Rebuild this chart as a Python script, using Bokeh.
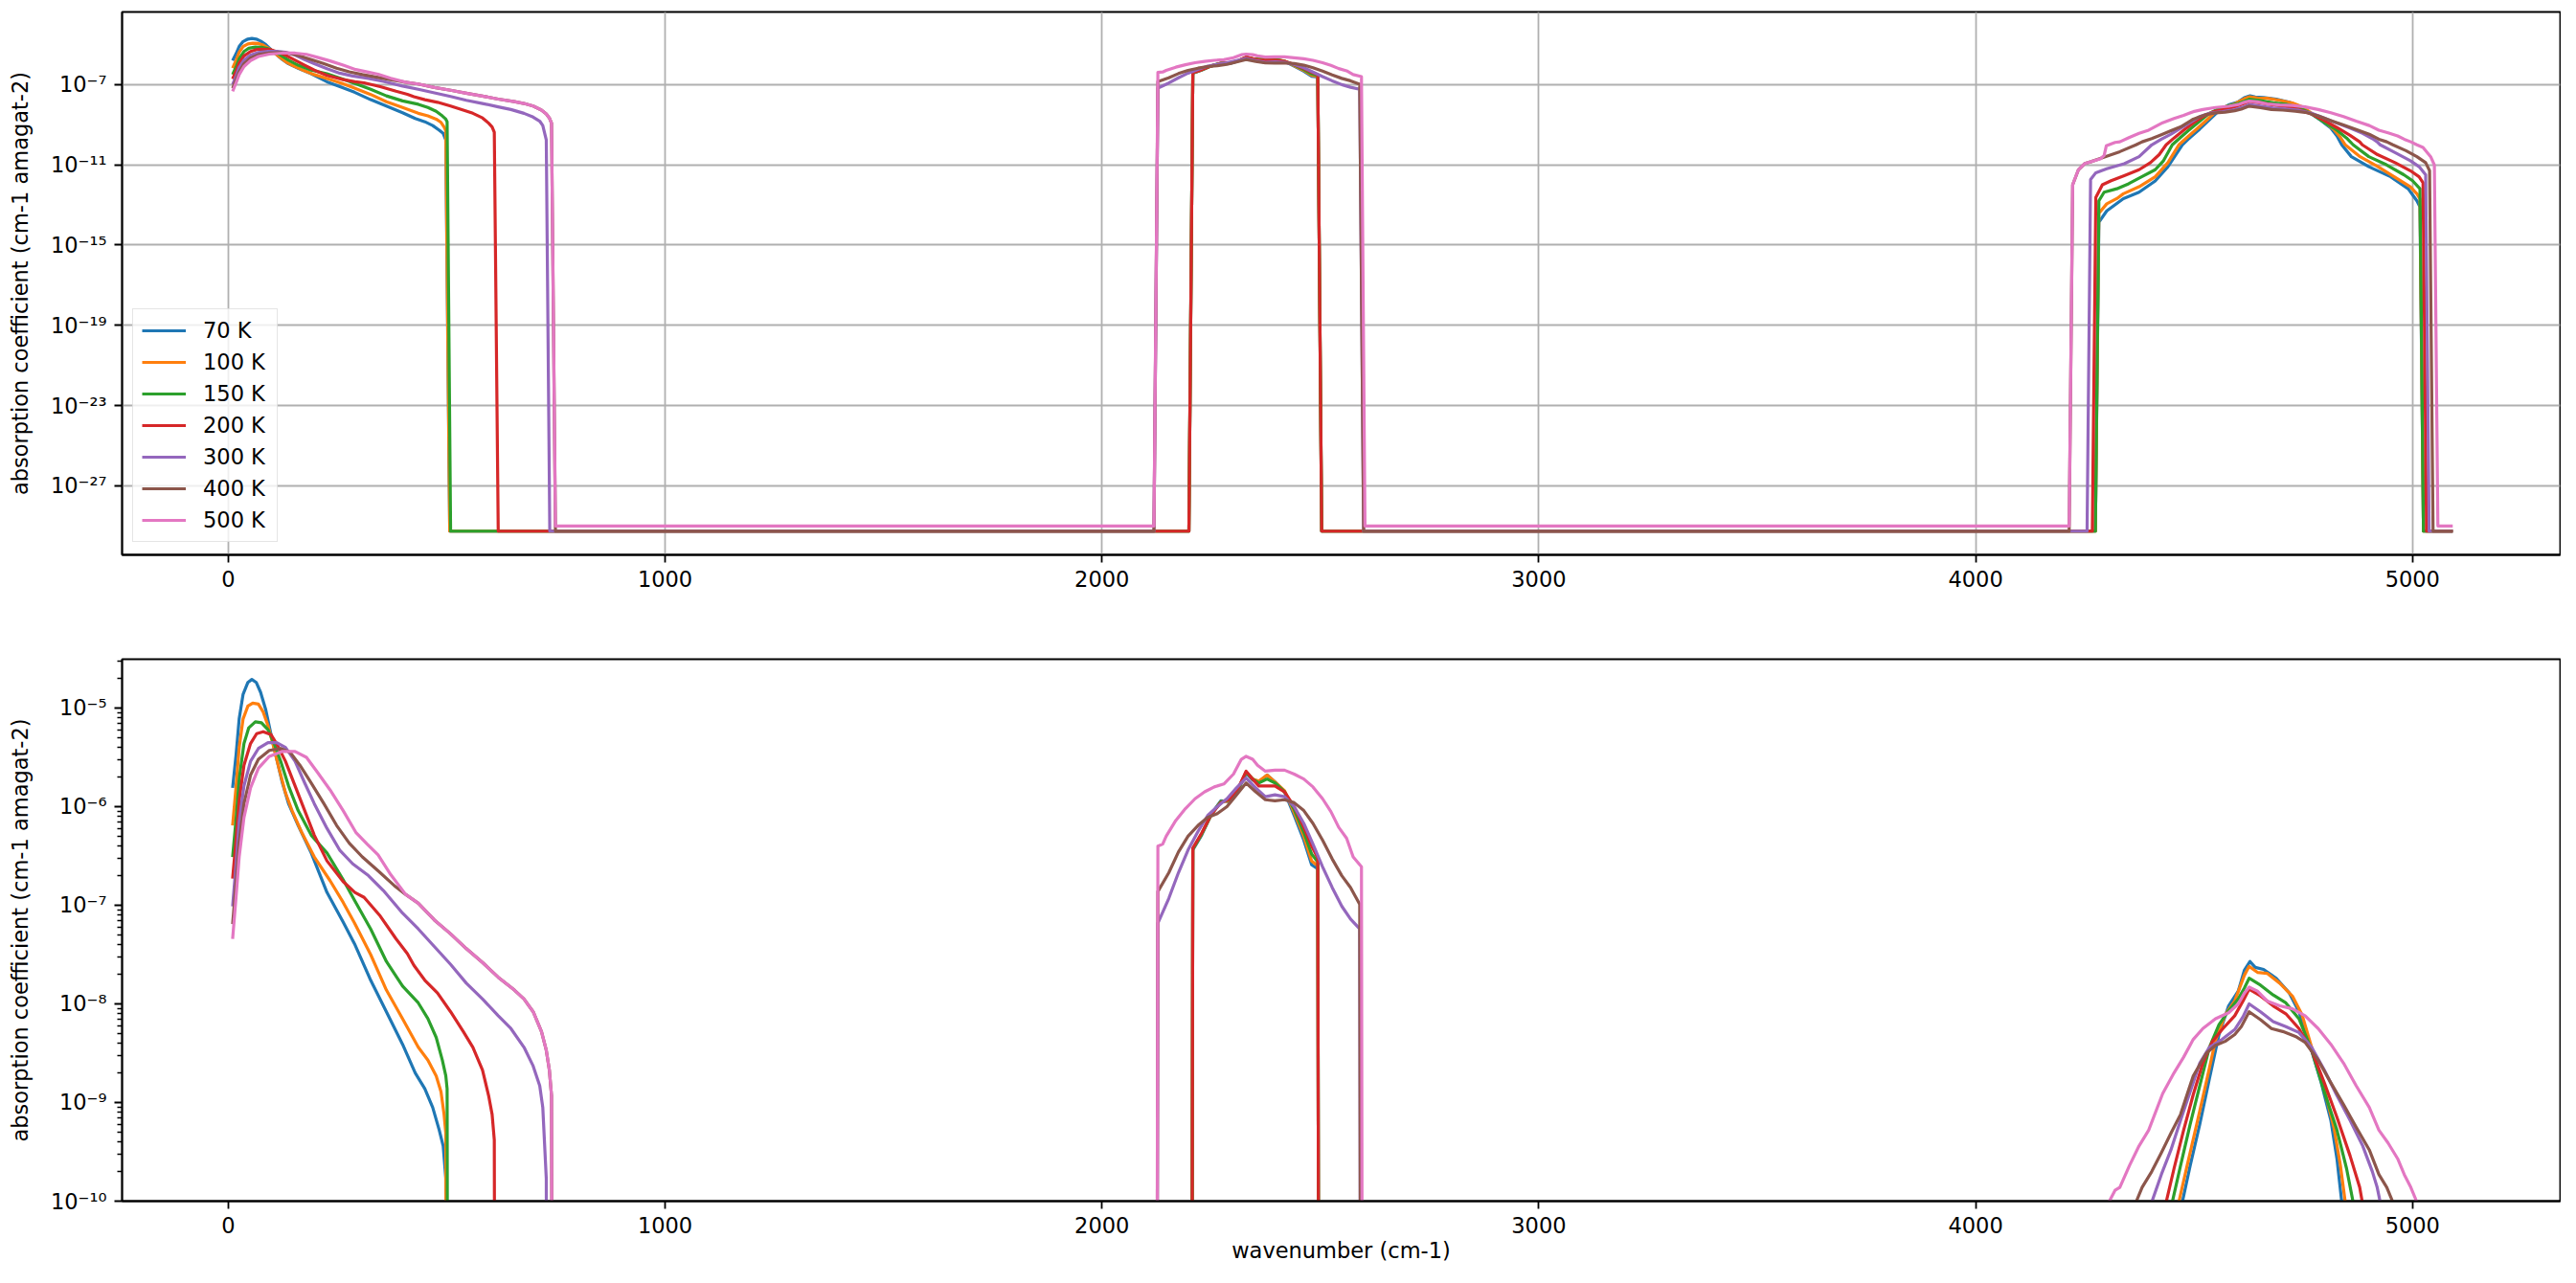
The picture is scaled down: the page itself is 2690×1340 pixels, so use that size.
from bokeh.plotting import figure
from bokeh.layouts import column
from bokeh.models import (ColumnDataSource, Range1d, FixedTicker,
                          CustomJSTickFormatter, Legend, LegendItem)
from bokeh.embed import file_html
from bokeh.resources import INLINE

# ---------------- data (wavenumber in cm-1, log10 of absorption coefficient) ----------------
temperatures = ["70 K", "100 K", "150 K", "200 K", "300 K", "400 K", "500 K"]
colors = ["#1f77b4", "#ff7f0e", "#2ca02c", "#d62728", "#9467bd", "#8c564b", "#e377c2"]

F = -29.26   # fill level outside the bands
FP = -29.0   # fill level of the 500 K set

x70 = [10, 18, 25, 34, 45, 54, 64, 74, 86, 98, 110, 124, 138, 160, 190, 226, 263, 289, 326, 362, 399, 428, 450, 468, 483, 492, 498, 507,
       2199, 2208, 2228, 2250, 2272, 2294, 2312, 2330, 2345, 2359, 2378, 2396, 2418, 2440, 2462, 2480, 2494, 2503,
       4274, 4282, 4300, 4338, 4374, 4411, 4440, 4473, 4491, 4513, 4535, 4557, 4579, 4601, 4615, 4628, 4640, 4659, 4688, 4718,
       4740, 4762, 4791, 4813, 4827, 4838, 4860, 4900, 4950, 4990, 5010, 5017, 5025, 5092]
lg70 = [-5.81, -5.47, -5.11, -4.86, -4.74, -4.71, -4.74, -4.84, -5.02, -5.27, -5.50, -5.76, -5.97, -6.19, -6.47, -6.87, -7.17,
        -7.39, -7.76, -8.08, -8.41, -8.70, -8.86, -9.05, -9.28, -9.44, -9.77, F,
        F, -6.44, -6.29, -6.08, -5.94, -5.95, -5.83, -5.66, -5.73, -5.75, -5.68, -5.75, -5.85, -6.09, -6.34, -6.59, -6.63, F,
        F, -13.87, -13.3, -12.69, -12.37, -11.81, -11.1, -10.01, -9.64, -9.22, -8.76, -8.31, -8.02, -7.87, -7.66, -7.57, -7.63,
        -7.65, -7.74, -7.89, -8.08, -8.37, -8.80, -9.18, -9.57, -10.01, -10.6, -11.1, -11.6, -12.2, -12.8, -13.1, F, F]

x100 = [10, 18, 25, 34, 45, 56, 69, 80, 91, 102, 116, 131, 146, 168, 197, 233, 263, 289, 326, 362, 399, 435, 457, 476, 487, 494, 498, 507,
        2199, 2208, 2228, 2250, 2272, 2294, 2312, 2330, 2345, 2359, 2378, 2396, 2418, 2440, 2462, 2480, 2494, 2503,
        4274, 4282, 4300, 4323, 4338, 4374, 4411, 4440, 4465, 4484, 4506, 4528, 4549, 4571, 4593, 4615, 4626, 4645, 4667, 4696,
        4725, 4747, 4769, 4798, 4820, 4835, 4846, 4880, 4921, 4958, 4995, 5010, 5017, 5025, 5092]
lg100 = [-6.19, -5.79, -5.40, -5.11, -4.98, -4.95, -4.96, -5.04, -5.18, -5.36, -5.61, -5.86, -6.04, -6.26, -6.51, -6.75, -6.97,
         -7.18, -7.50, -7.86, -8.15, -8.44, -8.57, -8.73, -8.89, -9.12, -9.31, F,
         F, -6.43, -6.28, -6.08, -5.95, -5.94, -5.82, -5.65, -5.72, -5.74, -5.68, -5.75, -5.84, -6.06, -6.30, -6.55, -6.60, F,
         F, -13.42, -12.95, -12.69, -12.45, -12.1, -11.6, -10.9, -10.01, -9.64, -9.22, -8.79, -8.37, -8.11, -7.97, -7.71, -7.62,
         -7.68, -7.69, -7.79, -7.92, -8.11, -8.44, -8.86, -9.25, -9.64, -10.01, -10.6, -11.1, -11.6, -12.1, -12.45, -12.7, F, F]

x150 = [10, 18, 25, 36, 47, 62, 76, 91, 105, 120, 138, 160, 190, 226, 263, 289, 326, 362, 399, 435, 457, 476, 490, 498, 501, 509,
        2199, 2208, 2228, 2250, 2272, 2294, 2312, 2330, 2345, 2359, 2378, 2396, 2418, 2440, 2462, 2480, 2494, 2503,
        4274, 4282, 4294, 4323, 4350, 4380, 4411, 4430, 4450, 4469, 4491, 4513, 4535, 4557, 4579, 4601, 4615, 4626, 4652, 4681,
        4710, 4740, 4769, 4798, 4827, 4849, 4864, 4900, 4940, 4980, 5000, 5017, 5025, 5092]
lg150 = [-6.51, -6.12, -5.72, -5.36, -5.20, -5.14, -5.15, -5.22, -5.36, -5.54, -5.79, -6.04, -6.29, -6.47, -6.74, -6.95, -7.24,
         -7.57, -7.82, -7.99, -8.15, -8.34, -8.57, -8.73, -8.86, F,
         F, -6.43, -6.28, -6.08, -5.95, -5.93, -5.82, -5.65, -5.72, -5.76, -5.72, -5.76, -5.85, -6.03, -6.26, -6.48, -6.56, F,
         F, -12.8, -12.37, -12.2, -11.95, -11.6, -11.25, -10.8, -10.01, -9.64, -9.22, -8.83, -8.44, -8.21, -8.07, -7.95, -7.84,
         -7.74, -7.81, -7.91, -7.99, -8.15, -8.47, -8.89, -9.28, -9.67, -10.01, -10.6, -11.0, -11.5, -11.8, -12.2, F, F]

x200 = [10, 18, 25, 36, 51, 65, 80, 98, 113, 131, 153, 175, 197, 226, 263, 290, 311, 348, 384, 410, 425, 450, 479, 509, 538,
        560, 582, 596, 604, 609, 618,
        2199, 2208, 2228, 2250, 2272, 2294, 2312, 2330, 2345, 2359, 2378, 2396, 2418, 2440, 2462, 2480, 2494, 2503,
        4267, 4275, 4290, 4310, 4340, 4374, 4400, 4420, 4436, 4454, 4476, 4498, 4520, 4542, 4564, 4593, 4612, 4626, 4652, 4681,
        4710, 4740, 4769, 4798, 4827, 4857, 4879, 4885, 4920, 4960, 4995, 5015, 5024, 5032, 5092]
lg200 = [-6.73, -6.33, -5.94, -5.58, -5.36, -5.26, -5.24, -5.27, -5.38, -5.54, -5.79, -6.04, -6.29, -6.55, -6.76, -6.87, -6.92,
         -7.11, -7.34, -7.49, -7.61, -7.76, -7.89, -8.08, -8.28, -8.44, -8.67, -8.93, -9.12, -9.38, F,
         F, -6.42, -6.27, -6.08, -5.96, -5.92, -5.81, -5.64, -5.72, -5.79, -5.79, -5.79, -5.85, -6.00, -6.21, -6.40, -6.52, F,
         F, -12.63, -12.0, -11.8, -11.55, -11.25, -10.9, -10.5, -10.01, -9.67, -9.28, -8.92, -8.60, -8.38, -8.26, -8.12, -7.97,
         -7.85, -7.92, -8.02, -8.10, -8.25, -8.47, -8.80, -9.15, -9.54, -9.86, -10.01, -10.5, -10.9, -11.3, -11.6, -11.9, F, F]

x300 = [10, 18, 25, 36, 51, 69, 91, 111, 131, 153, 175, 197, 226, 255, 285, 321, 355, 399, 435, 472, 509, 545, 582, 618, 647,
        677, 698, 713, 720, 728, 736,
        2119, 2128, 2153, 2175, 2197, 2220, 2242, 2264, 2286, 2308, 2330, 2352, 2374, 2396, 2418, 2440, 2462, 2483, 2505, 2527,
        2549, 2569, 2590, 2599,
        4255, 4263, 4275, 4300, 4340, 4374, 4403, 4425, 4447, 4469, 4491, 4513, 4535, 4564, 4593, 4612, 4626, 4652, 4681, 4710,
        4740, 4769, 4798, 4827, 4857, 4886, 4908, 4919, 4926, 4960, 4995, 5015, 5030, 5038, 5092]
lg300 = [-7.01, -6.58, -6.15, -5.79, -5.54, -5.41, -5.35, -5.35, -5.40, -5.54, -5.76, -5.97, -6.22, -6.44, -6.58, -6.70, -6.85,
         -7.08, -7.24, -7.42, -7.60, -7.79, -7.95, -8.12, -8.25, -8.44, -8.63, -8.83, -9.05, -9.77, F,
         F, -7.18, -6.93, -6.67, -6.44, -6.25, -6.09, -6.00, -5.92, -5.81, -5.71, -5.81, -5.90, -5.88, -5.90, -6.00, -6.17,
         -6.38, -6.61, -6.82, -7.01, -7.14, -7.24, F,
         F, -11.74, -11.4, -11.2, -10.95, -10.6, -10.01, -9.73, -9.48, -9.18, -8.89, -8.60, -8.44, -8.36, -8.26, -8.13, -8.00,
         -8.08, -8.18, -8.23, -8.29, -8.44, -8.67, -8.93, -9.18, -9.44, -9.70, -9.86, -10.01, -10.4, -10.8, -11.1, -11.5, F, F]

x400 = [10, 18, 25, 36, 51, 69, 94, 120, 142, 164, 190, 219, 248, 277, 307, 343, 380, 406, 435, 472, 509, 545, 582, 618, 655,
        677, 698, 717, 728, 735, 740, 749,
        2119, 2128, 2153, 2175, 2197, 2220, 2242, 2264, 2286, 2308, 2330, 2352, 2374, 2396, 2418, 2440, 2462, 2483, 2505, 2527,
        2549, 2569, 2590, 2599,
        4214, 4222, 4235, 4250, 4264, 4290, 4330, 4367, 4381, 4403, 4425, 4447, 4469, 4498, 4528, 4549, 4571, 4593, 4608, 4626,
        4652, 4677, 4703, 4732, 4754, 4784, 4813, 4842, 4871, 4901, 4923, 4941, 4955, 4985, 5010, 5030, 5039, 5047, 5092]
lg400 = [-7.19, -6.76, -6.37, -5.97, -5.68, -5.52, -5.43, -5.41, -5.45, -5.58, -5.76, -5.97, -6.19, -6.37, -6.51, -6.65, -6.80,
         -6.89, -6.98, -7.15, -7.29, -7.44, -7.58, -7.73, -7.86, -7.95, -8.08, -8.28, -8.47, -8.67, -8.93, F,
         F, -6.86, -6.67, -6.46, -6.30, -6.19, -6.11, -6.07, -6.00, -5.88, -5.76, -5.85, -5.93, -5.94, -5.93, -5.96, -6.04,
         -6.17, -6.34, -6.53, -6.70, -6.82, -6.99, F,
         F, -12.0, -11.26, -10.94, -10.85, -10.65, -10.35, -10.01, -9.86, -9.70, -9.51, -9.31, -9.12, -8.73, -8.50, -8.42, -8.38,
         -8.31, -8.23, -8.08, -8.16, -8.25, -8.28, -8.33, -8.39, -8.57, -8.80, -9.02, -9.25, -9.48, -9.73, -9.86, -10.01, -10.3,
         -10.6, -10.9, -11.3, F, F]

x500 = [10, 18, 25, 36, 51, 69, 94, 124, 153, 179, 204, 233, 263, 292, 318, 343, 372, 406, 435, 472, 509, 545, 582, 618, 655,
        677, 698, 717, 728, 735, 740, 749,
        2119, 2128, 2139, 2147, 2169, 2191, 2213, 2235, 2257, 2279, 2301, 2319, 2330, 2345, 2356, 2374, 2396, 2418, 2440, 2462,
        2483, 2505, 2524, 2542, 2560, 2575, 2594, 2602,
        4214, 4222, 4235, 4250, 4264, 4286, 4294, 4299, 4319, 4330, 4352, 4374, 4396, 4428, 4454, 4476, 4498, 4520, 4549, 4579,
        4601, 4615, 4626, 4645, 4667, 4696, 4725, 4754, 4784, 4813, 4842, 4871, 4901, 4923, 4944, 4966, 4981, 4996, 5010, 5024,
        5042, 5050, 5058, 5092]
lg500 = [-7.34, -6.91, -6.51, -6.11, -5.81, -5.61, -5.49, -5.44, -5.44, -5.50, -5.65, -5.83, -6.04, -6.26, -6.38, -6.49, -6.69,
         -6.89, -6.98, -7.15, -7.29, -7.44, -7.58, -7.73, -7.86, -7.95, -8.08, -8.28, -8.47, -8.67, -8.93, FP,
         FP, -6.40, -6.38, -6.30, -6.14, -6.02, -5.92, -5.85, -5.80, -5.77, -5.67, -5.52, -5.49, -5.52, -5.58, -5.64, -5.63,
         -5.63, -5.67, -5.72, -5.80, -5.92, -6.05, -6.21, -6.32, -6.51, -6.61, FP,
         FP, -12.0, -11.26, -10.94, -10.85, -10.70, -10.54, -10.06, -9.89, -9.86, -9.64, -9.44, -9.28, -8.91, -8.70, -8.54, -8.36,
         -8.25, -8.15, -8.09, -8.00, -7.89, -7.83, -7.87, -7.97, -8.02, -8.05, -8.12, -8.25, -8.41, -8.60, -8.83, -9.05, -9.28,
         -9.41, -9.57, -9.73, -9.86, -10.01, -10.14, -10.62, -11.02, FP, FP]

series_x = [x70, x100, x150, x200, x300, x400, x500]
series_lg = [lg70, lg100, lg150, lg200, lg300, lg400, lg500]

x_ticks = [0, 1000, 2000, 3000, 4000, 5000]
top_y_ticks = [1e-27, 1e-23, 1e-19, 1e-15, 1e-11, 1e-7]
bottom_y_ticks = [1e-10, 1e-9, 1e-8, 1e-7, 1e-6, 1e-5]
bottom_y_minor = [m * 10.0 ** e for e in range(-10, -4) for m in range(2, 10)]

for xs, ls in zip(series_x, series_lg):
    assert len(xs) == len(ls), (len(xs), len(ls))

# ---------------- styling ----------------
FONT = "DejaVu Sans"
FS = "22.5px"
LW = 3.2

SUP_JS = r'''
const sup = {"-": "\u207b", "0": "\u2070", "1": "\u00b9", "2": "\u00b2", "3": "\u00b3",
             "4": "\u2074", "5": "\u2075", "6": "\u2076", "7": "\u2077", "8": "\u2078", "9": "\u2079"};
const e = Math.round(Math.log10(tick));
let s = "";
for (const c of String(e)) { s += sup[c]; }
return "10" + s;
'''


def make_fig(y_range, frame_height, border_top, border_bottom, yticks, yminor, grid, xlabel):
    p = figure(frame_width=2546, frame_height=frame_height,
               x_range=Range1d(-243, 5338), y_range=y_range,
               y_axis_type="log", output_backend="svg", toolbar_location=None,
               title=None, min_border_left=127, min_border_right=1,
               min_border_top=border_top, min_border_bottom=border_bottom,
               background_fill_color="white", border_fill_color="white")
    p.outline_line_color = "black"
    p.outline_line_width = 1.8
    p.xaxis.ticker = FixedTicker(ticks=x_ticks, minor_ticks=[])
    p.yaxis.ticker = FixedTicker(ticks=yticks, minor_ticks=yminor)
    p.yaxis.formatter = CustomJSTickFormatter(code=SUP_JS)
    for ax in (p.xaxis[0], p.yaxis[0]):
        ax.axis_line_color = "black"
        ax.axis_line_width = 1.8
        ax.major_tick_line_color = "black"
        ax.major_tick_line_width = 1.8
        ax.major_tick_out = 8
        ax.major_tick_in = 0
        ax.minor_tick_line_color = "black"
        ax.minor_tick_line_width = 1.3
        ax.minor_tick_out = 5
        ax.minor_tick_in = 0
        ax.major_label_text_font = FONT
        ax.major_label_text_font_size = FS
        ax.major_label_text_color = "black"
        ax.major_label_standoff = 8
        ax.axis_label_text_font = FONT
        ax.axis_label_text_font_size = FS
        ax.axis_label_text_font_style = "normal"
        ax.axis_label_text_color = "black"
    p.xaxis.minor_tick_line_color = None
    if not yminor:
        p.yaxis.minor_tick_line_color = None
    p.yaxis.axis_label = "absorption coefficient (cm-1 amagat-2)"
    p.yaxis.axis_label_standoff = 16
    if xlabel:
        p.xaxis.axis_label = xlabel
        p.xaxis.axis_label_standoff = 2
    if grid:
        for g in (p.xgrid, p.ygrid):
            g.grid_line_color = "#b0b0b0"
            g.grid_line_width = 1.8
    else:
        p.xgrid.grid_line_color = None
        p.ygrid.grid_line_color = None
    renderers = []
    for xs, ls, c in zip(series_x, series_lg, colors):
        src = ColumnDataSource(dict(x=xs, y=[10.0 ** v for v in ls]))
        r = p.line("x", "y", source=src, line_color=c, line_width=LW, line_join="round")
        renderers.append(r)
    return p, renderers


top, top_r = make_fig(Range1d(10 ** -30.44, 10 ** -3.39), 567, 12, 51,
                      top_y_ticks, [], True, None)
bottom, _ = make_fig(Range1d(1e-10, 10 ** -4.505), 566, 58, 70,
                     bottom_y_ticks, bottom_y_minor, False, "wavenumber (cm-1)")

legend = Legend(items=[LegendItem(label=t, renderers=[r]) for t, r in zip(temperatures, top_r)],
                location=(11, 13), margin=0, padding=9, spacing=7,
                glyph_width=46, glyph_height=26, label_height=26, label_width=68, label_standoff=18,
                label_text_font=FONT, label_text_font_size=FS, label_text_color="black",
                border_line_color="#cccccc", border_line_width=1.8,
                background_fill_color="white", background_fill_alpha=0.8)
top.add_layout(legend, "center")

layout = column(top, bottom, spacing=0)
open("out.html", "w").write(file_html(layout, INLINE))
